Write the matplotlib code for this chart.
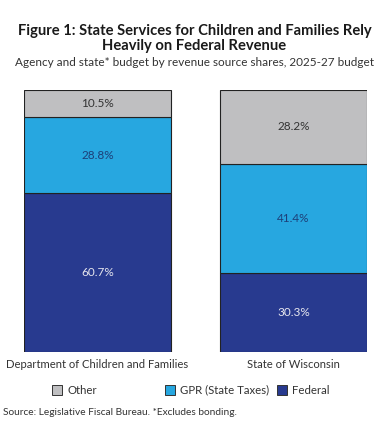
import matplotlib.pyplot as plt
from matplotlib.patches import Rectangle

# data
categories = ['Department of Children and Families', 'State of Wisconsin']
federal = [60.7, 30.3]
gpr = [28.8, 41.4]
other = [10.5, 28.2]
series_names = ['Other', 'GPR (State Taxes)', 'Federal']

c_other = '#bfbfc1'
c_gpr = '#27a7e0'
c_fed = '#283a8f'

plt.rcParams['font.family'] = ['Lato', 'DejaVu Sans']

W, H = 389, 423
fig = plt.figure(figsize=(W / 100, H / 100), dpi=100)

ax = fig.add_axes([24 / W, 71 / H, 343 / W, 262 / H])
x = [0, 1]
bw = 0.75
ax.bar(x, federal, bw, color=c_fed, edgecolor='#222222', linewidth=0.8)
ax.bar(x, gpr, bw, bottom=federal, color=c_gpr, edgecolor='#222222', linewidth=0.8)
bot2 = [f + g for f, g in zip(federal, gpr)]
ax.bar(x, other, bw, bottom=bot2, color=c_other, edgecolor='#222222', linewidth=0.8)
ax.set_xlim(-0.375, 1.375)
ax.set_ylim(0, sum([federal[1], gpr[1], other[1]]))
ax.axis('off')

for i in x:
    ax.text(i, federal[i] / 2, f'{federal[i]:.1f}%', ha='center', va='center',
            fontsize=8.5, color='#e6e6ee')
    ax.text(i, federal[i] + gpr[i] / 2, f'{gpr[i]:.1f}%', ha='center', va='center',
            fontsize=8.5, color='#1d3f78')
    ax.text(i, bot2[i] + other[i] / 2, f'{other[i]:.1f}%', ha='center', va='center',
            fontsize=8.5, color='#333333')
    ax.text(i, -2.8, categories[i], ha='center', va='top', fontsize=8.1, color='#333333')

# titles
fig.text(0.5, 1 - 31 / H, 'Figure 1: State Services for Children and Families Rely',
         ha='center', va='center', fontsize=10.6, fontweight='bold', color='#1a1a1a')
fig.text(0.5, 1 - 46 / H, 'Heavily on Federal Revenue',
         ha='center', va='center', fontsize=10.6, fontweight='bold', color='#1a1a1a')
fig.text(0.5, 1 - 62 / H, 'Agency and state* budget by revenue source shares, 2025-27 budget',
         ha='center', va='center', fontsize=8.45, color='#333333')

# legend
legend_x = [52, 165, 277]
for name, col, lx in zip(series_names, [c_other, c_gpr, c_fed], legend_x):
    fig.patches.append(Rectangle((lx / W, 1 - 395 / H), 10 / W, 10 / H,
                                 transform=fig.transFigure, facecolor=col,
                                 edgecolor='#333333', linewidth=0.7))
    fig.text((lx + 15) / W, 1 - 390 / H, name, ha='left', va='center',
             fontsize=8.2, color='#333333')

fig.text(3 / W, 1 - 412 / H, 'Source: Legislative Fiscal Bureau. *Excludes bonding.',
         ha='left', va='center', fontsize=7.3, color='#333333')

fig.savefig('out.png', dpi=100, facecolor='white')
